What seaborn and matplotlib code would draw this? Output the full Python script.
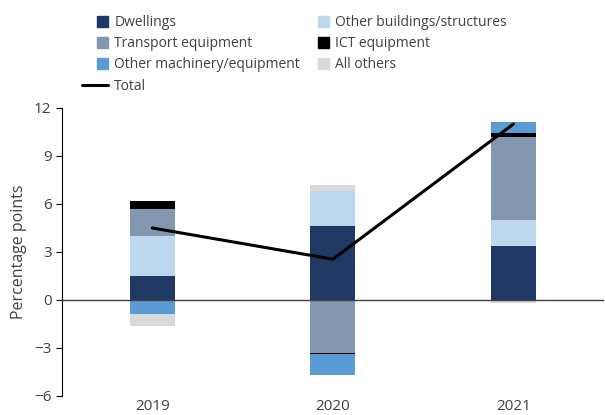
import numpy as np
import matplotlib.pyplot as plt
import seaborn as sns
from matplotlib.lines import Line2D
from matplotlib.patches import Patch, Rectangle
from matplotlib.legend_handler import HandlerPatch

# Data (percentage points)
years = ["2019", "2020", "2021"]
dwellings = [1.5, 4.6, 3.4]
other_buildings = [2.5, 2.2, 1.6]
transport = [1.7, -3.3, 5.2]
ict = [0.5, -0.05, 0.25]
other_machinery = [-0.85, -1.35, 0.7]
all_others = [-0.8, 0.4, -0.2]
total = [4.5, 2.55, 11.0]

series = [
    ("Dwellings", dwellings, "#1f3864"),
    ("Other buildings/structures", other_buildings, "#bdd7ee"),
    ("Transport equipment", transport, "#8497b0"),
    ("ICT equipment", ict, "#000000"),
    ("Other machinery/equipment", other_machinery, "#5b9bd5"),
    ("All others", all_others, "#d9d9d9"),
]

sns.set_style("white")
plt.rcParams["font.family"] = ["Open Sans", "DejaVu Sans"]
grey = "#404040"

fig = plt.figure(figsize=(6.05, 4.15), dpi=100)
ax = fig.add_axes([0.1025, 0.0458, 0.8955, 0.694])

x = np.arange(len(years))
pos_base = np.zeros(len(years))
neg_base = np.zeros(len(years))
handles = {}
for name, vals, col in series:
    vals = np.array(vals)
    bottom = np.where(vals >= 0, pos_base, neg_base)
    ax.bar(x, vals, width=0.25, bottom=bottom, color=col, linewidth=0)
    pos_base = pos_base + np.where(vals >= 0, vals, 0)
    neg_base = neg_base + np.where(vals < 0, vals, 0)
    handles[name] = Patch(color=col, label=name)

sns.lineplot(x=x, y=total, color="black", linewidth=2.2, ax=ax, legend=False)
ax.axhline(0, color=grey, linewidth=1.0, zorder=3)

ax.set_xlim(-0.5, 2.5)
ax.set_ylim(-6, 12)
ax.set_yticks(np.arange(-6, 13, 3))
ax.set_xticks(x)
ax.set_xticklabels(years)
for s in ["top", "right", "bottom"]:
    ax.spines[s].set_visible(False)
ax.spines["left"].set_color("black")
ax.spines["left"].set_linewidth(0.8)
ax.tick_params(axis="y", length=4, width=0.8, color="black", direction="out",
               labelsize=11, labelcolor=grey, pad=3.5, left=True)
ax.tick_params(axis="x", length=0, labelsize=11, labelcolor=grey, pad=2)
ax.set_ylabel("Percentage points", fontsize=11.5, color=grey, labelpad=5)


def square(legend, orig_handle, xdescent, ydescent, width, height, fontsize):
    s = 8.0
    return Rectangle((width - xdescent - s, -ydescent + (height - s) / 2), s, s)


total_handle = Line2D([], [], color="black", linewidth=2.2, label="Total")
order = ["Dwellings", "Transport equipment", "Other machinery/equipment", None,
         "Other buildings/structures", "ICT equipment", "All others"]
hl = [total_handle if n is None else handles[n] for n in order]
fig.legend(handles=hl, labels=[h.get_label() for h in hl], ncol=2,
           loc="upper left", bbox_to_anchor=(0.1355, 0.964), frameon=False,
           fontsize=10, labelcolor=grey, handlelength=1.9, handletextpad=0.43,
           labelspacing=0.45, columnspacing=0.2, borderaxespad=0, borderpad=0,
           handler_map={Patch: HandlerPatch(patch_func=square)})

plt.savefig("out.png", dpi=100)
